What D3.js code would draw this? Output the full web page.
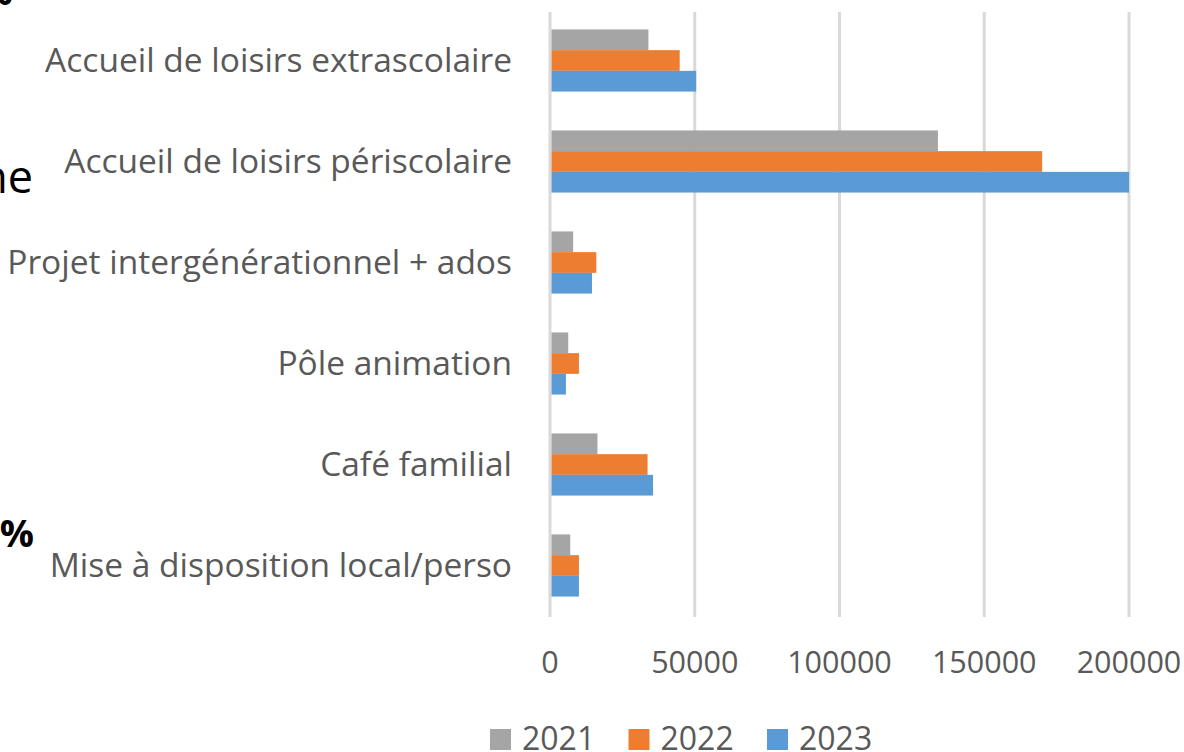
<!DOCTYPE html>
<html>
<head>
<meta charset="utf-8">
<script src="https://cdn.jsdelivr.net/npm/d3@7"></script>
<style>
  body { margin: 0; background: #fff; }
  svg { display: block; }
  .tick-label, .cat-label, .legend-label { fill: #595959; font-family: "Open Sans", sans-serif; }
  .page-text { fill: #000; font-family: "Open Sans", sans-serif; }
</style>
</head>
<body>
<div id="chart"></div>
<script>
// data
var categories = [
    "Accueil de loisirs extrascolaire",
    "Accueil de loisirs périscolaire",
    "Projet intergénérationnel + ados",
    "Pôle animation",
    "Café familial",
    "Mise à disposition local/perso"
];
var years = ["2021", "2022", "2023"];
var values2021 = [34000, 134000, 8000, 6300, 16400, 7000];
var values2022 = [44800, 170000, 16000, 10000, 33700, 10000];
var values2023 = [50500, 200000, 14500, 5500, 35600, 10000];
var xTicks = [0, 50000, 100000, 150000, 200000];
var colors = ["#A5A5A5", "#ED7D31", "#5B9BD5"];

var width = 1184;
var height = 752;

var svg = d3.select("#chart").append("svg")
    .attr("width", width)
    .attr("height", height);

// bits of the surrounding page text, cut off at the left edge
svg.append("text").attr("class", "page-text")
    .attr("x", 13).attr("y", 5)
    .attr("text-anchor", "end")
    .style("font-size", "40px").style("font-weight", "bold")
    .text("%");
svg.append("text").attr("class", "page-text")
    .attr("x", 33).attr("y", 193)
    .attr("text-anchor", "end")
    .style("font-size", "45px")
    .text("ne");
svg.append("text").attr("class", "page-text")
    .attr("x", 34).attr("y", 547)
    .attr("text-anchor", "end")
    .style("font-size", "38px").style("font-weight", "bold")
    .text("%");

var series = years.map(function(y, i) {
    var vals = [values2021, values2022, values2023][i];
    return { year: y, color: colors[i], values: vals };
});

var xScale = d3.scaleLinear()
    .domain([0, 200000])
    .range([550, 1129]);

var yScale = d3.scaleBand()
    .domain(categories)
    .range([10, 616])
    .paddingInner(0.385)
    .paddingOuter(0.1925);

var innerScale = d3.scaleBand()
    .domain(years)
    .range([0, yScale.bandwidth()]);

// gridlines
svg.append("g")
    .selectAll("line")
    .data(xTicks)
    .enter().append("line")
    .attr("x1", d => xScale(d))
    .attr("x2", d => xScale(d))
    .attr("y1", 12)
    .attr("y2", 617)
    .attr("stroke", "#D9D9D9")
    .attr("stroke-width", 3);

// tick labels
svg.append("g")
    .selectAll("text")
    .data(xTicks)
    .enter().append("text")
    .attr("class", "tick-label")
    .attr("x", d => xScale(d))
    .attr("y", 673)
    .attr("text-anchor", "middle")
    .style("font-size", "30.5px")
    .text(d => d);

// bars
var groups = svg.append("g")
    .selectAll("g")
    .data(series)
    .enter().append("g")
    .attr("fill", d => d.color);

groups.selectAll("rect")
    .data(d => d.values.map((v, i) => ({ year: d.year, cat: categories[i], value: v })))
    .enter().append("rect")
    .attr("x", xScale(0) + 1.5)
    .attr("y", d => yScale(d.cat) + innerScale(d.year))
    .attr("width", d => xScale(d.value) - xScale(0) - 1.5)
    .attr("height", innerScale.bandwidth());

// category labels
svg.append("g")
    .selectAll("text")
    .data(categories)
    .enter().append("text")
    .attr("class", "cat-label")
    .attr("x", 512)
    .attr("y", d => yScale(d) + yScale.bandwidth() / 2 + 11)
    .attr("text-anchor", "end")
    .style("font-size", "33.5px")
    .text(d => d);

// legend
var legend = svg.append("g")
    .selectAll("g")
    .data(series)
    .enter().append("g")
    .attr("transform", (d, i) => `translate(${490 + i * 138.5}, 729)`);

legend.append("rect")
    .attr("width", 21)
    .attr("height", 21)
    .attr("fill", d => d.color);

legend.append("text")
    .attr("class", "legend-label")
    .attr("x", 32)
    .attr("y", 21)
    .style("font-size", "32px")
    .text(d => d.year);
</script>
</body>
</html>
